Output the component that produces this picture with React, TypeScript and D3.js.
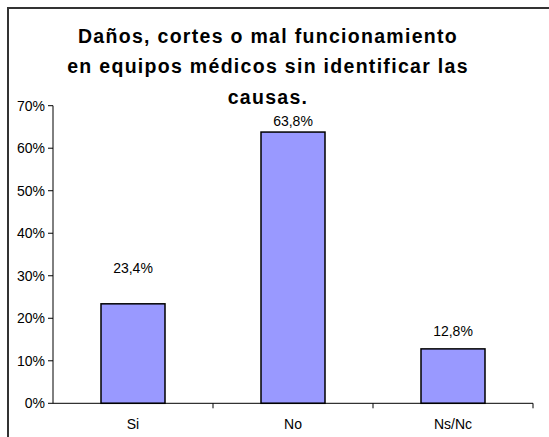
import React from "react";
import * as d3 from "d3";

const categories = ["Si", "No", "Ns/Nc"];
const values = [23.4, 63.8, 12.8];
const valueLabels = ["23,4%", "63,8%", "12,8%"];
const yTicks = [0, 10, 20, 30, 40, 50, 60, 70];
const titleLines = [
  "Daños, cortes o mal funcionamiento",
  "en equipos médicos sin identificar las",
  "causas.",
];

// gap (px) between bar top and label baseline, as placed in the original
const labelGaps = [31, 6, 13];

export default function App() {
  const W = 549;
  const H = 437;
  const left = 53;
  const right = 533;
  const top = 105.7;
  const bottom = 403.3;

  const x = d3
    .scaleBand<string>()
    .domain(categories)
    .range([left, right])
    .paddingInner(0.6)
    .paddingOuter(0.3);
  const y = d3.scaleLinear().domain([0, 70]).range([bottom, top]);

  const boundaries = categories.map((_, i) => left + ((right - left) / categories.length) * (i + 1));
  const font = "'Liberation Sans', Arial, sans-serif";

  return (
    <svg
      width={W}
      height={H}
      style={{ position: "absolute", left: 0, top: 0, background: "#fff" }}
      fontFamily={font}
    >
      <rect x={0} y={0} width={W} height={H} fill="#fff" />
      <path d={`M8,${H + 5} L8,8 L${W + 5},8`} fill="none" stroke="#333" strokeWidth={2} />

      {titleLines.map((t, i) => (
        <text
          key={i}
          x={268}
          y={42.5 + i * 30.5}
          textAnchor="middle"
          fontSize={19.5}
          fontWeight="bold"
          letterSpacing={1.3}
          fill="#000"
        >
          {t}
        </text>
      ))}

      {/* y axis */}
      <line x1={left} x2={left} y1={top} y2={bottom} stroke="#000" strokeWidth={1} />
      {yTicks.map((t) => (
        <g key={t}>
          <line x1={left - 5} x2={left} y1={y(t)} y2={y(t)} stroke="#000" />
          <text x={45} y={y(t) + 5} textAnchor="end" fontSize={14} fill="#000">
            {t}%
          </text>
        </g>
      ))}

      {/* bars */}
      {categories.map((c, i) => (
        <rect
          key={c}
          x={x(c)}
          y={y(values[i])}
          width={x.bandwidth()}
          height={bottom - y(values[i])}
          fill="#9999FF"
          stroke="#000"
          strokeWidth={1.5}
        />
      ))}

      {/* x axis */}
      <line x1={left} x2={right} y1={bottom} y2={bottom} stroke="#000" strokeWidth={1} />
      {boundaries.map((b, i) => (
        <line key={i} x1={b} x2={b} y1={bottom} y2={bottom + 5} stroke="#000" />
      ))}
      {categories.map((c) => (
        <text
          key={c}
          x={(x(c) as number) + x.bandwidth() / 2}
          y={429}
          textAnchor="middle"
          fontSize={14}
          fill="#000"
        >
          {c}
        </text>
      ))}

      {/* value labels */}
      {categories.map((c, i) => (
        <text
          key={c}
          x={(x(c) as number) + x.bandwidth() / 2}
          y={y(values[i]) - labelGaps[i]}
          textAnchor="middle"
          fontSize={14}
          fill="#000"
        >
          {valueLabels[i]}
        </text>
      ))}
    </svg>
  );
}
